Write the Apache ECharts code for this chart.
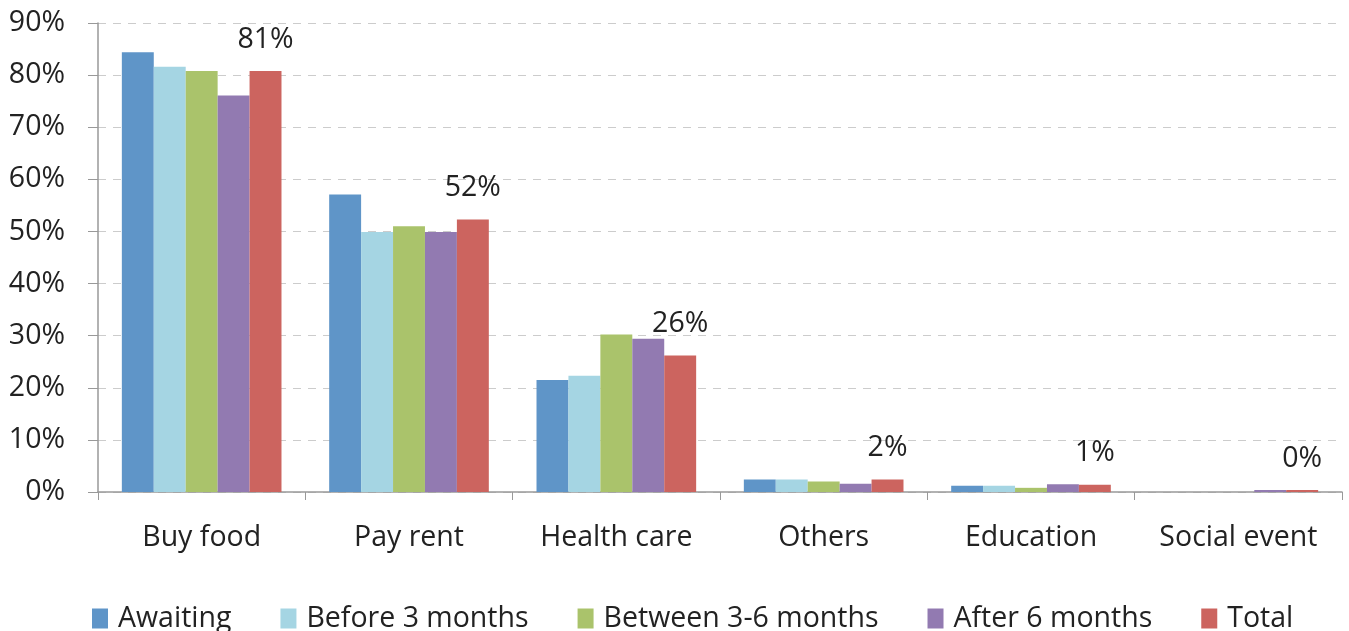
<!DOCTYPE html>
<html><head><meta charset="utf-8">
<script src="https://cdn.jsdelivr.net/npm/echarts@6/dist/echarts.min.js"></script>
<style>html,body{margin:0;padding:0;background:#fff}#c{width:1349px;height:631px}</style>
</head><body><div id="c"></div>
<script>
const categories = ['Buy food','Pay rent','Health care','Others','Education','Social event'];
const awaiting   = [84.4, 57.1, 21.5, 2.4, 1.2, 0];
const before3    = [81.6, 49.9, 22.3, 2.4, 1.2, 0];
const between36  = [80.8, 51.0, 30.2, 2.0, 0.8, 0];
const after6     = [76.1, 49.9, 29.4, 1.6, 1.5, 0.4];
const total      = [80.8, 52.3, 26.2, 2.4, 1.4, 0.4];
const totalLabels = ['81%','52%','26%','2%','1%','0%'];
const seriesNames = ['Awaiting','Before 3 months','Between 3-6 months','After 6 months','Total'];
const colors = ['#5F95C8','#A5D5E3','#AAC36B','#927AB1','#CC645F'];
const FONT = 'Open Sans';
const FS = 28.5;
const chart = echarts.init(document.getElementById('c'));
const data = [awaiting, before3, between36, after6, total];
chart.setOption({
  animation:false,
  textStyle:{fontFamily:FONT},
  grid:{left:98,right:7,top:23,bottom:139,containLabel:false},
  legend:{bottom:-7,left:87,itemWidth:16,itemHeight:20,itemGap:49,icon:'rect',
    textStyle:{fontSize:FS,color:'#222',fontFamily:FONT,padding:[0,0,0,5]},data:seriesNames},
  xAxis:{type:'category',data:categories,
    axisLine:{lineStyle:{color:'#999',width:1.5}},
    axisTick:{show:true,length:8,lineStyle:{color:'#999'}},
    axisLabel:{interval:0,fontSize:FS,color:'#222',margin:31,fontFamily:FONT}},
  yAxis:{type:'value',min:0,max:90,interval:10,
    axisLine:{show:true,lineStyle:{color:'#999',width:1.5}},
    axisTick:{show:true,length:10,lineStyle:{color:'#999'}},
    axisLabel:{formatter:'{value}%',fontSize:FS,color:'#222',margin:33,fontFamily:FONT},
    splitLine:{lineStyle:{color:'#ccc',type:[8,7]}}},
  series: data.map((d,i)=>({
    name:seriesNames[i],type:'bar',data:d,barGap:'0%',barCategoryGap:'23%',
    itemStyle:{color:colors[i]},
    label: i===4 ? {show:true,position:'top',distance:17,fontSize:FS,color:'#222',fontFamily:FONT,
      formatter:p=>totalLabels[p.dataIndex]} : {show:false}
  }))
});
</script></body></html>
